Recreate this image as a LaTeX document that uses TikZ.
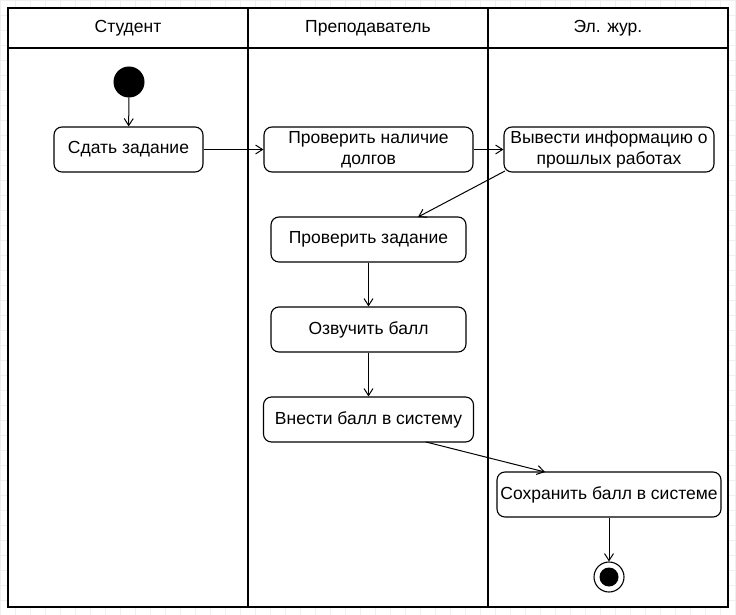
\documentclass[tikz,border=0pt]{standalone}
\usepackage{fontspec}
\setmainfont{Liberation Sans}
\usetikzlibrary{arrows.meta}
\begin{document}
\begin{tikzpicture}[x=1pt,y=-1pt,
  act/.style={draw,line width=1.1pt,rounded corners=8pt,fill=white,inner sep=0pt,align=center,font=\fontsize{17.5}{21}\selectfont},
  lane/.style={draw,line width=1.2pt},
  hdr/.style={font=\fontsize{17.5}{21}\selectfont},
  flow/.style={draw,line width=1pt,-{Straight Barb[length=7pt,width=9pt,line width=1pt]}}]
\useasboundingbox (0,0) rectangle (736,615);
\fill[white] (0,0) rectangle (736,615);
\draw[black!6,line width=0.5pt] (0,0) grid[step=15pt] (736,615);
% lanes
\fill[white] (8,8) rectangle (728,607);
\draw[lane] (8,8) rectangle (728,607);
\draw[lane] (8,48) -- (728,48);
\draw[lane] (248,8) -- (248,607);
\draw[lane] (488,8) -- (488,607);
\node[hdr] (h1) at (128,28) {Студент};
\node[hdr] (h2) at (368,28) {Преподаватель};
\node[hdr] (h3) at (608,28) {Эл. жур.};
% nodes
\node[circle,fill=black,draw,line width=1pt,minimum size=30pt,inner sep=0pt] (start) at (129,82) {};
\node[act,minimum width=149pt,minimum height=45pt] (a1) at (128.5,149.5) {Сдать задание};
\node[act,minimum width=209pt,minimum height=45pt] (a2) at (368.5,149.5) {Проверить наличие\\долгов};
\node[act,minimum width=210pt,minimum height=45pt] (a3) at (609,149.5) {Вывести информацию о\\прошлых работах};
\node[act,minimum width=195pt,minimum height=45pt] (a4) at (368.5,239.5) {Проверить задание};
\node[act,minimum width=195pt,minimum height=45pt] (a5) at (368.5,329.5) {Озвучить балл};
\node[act,minimum width=210pt,minimum height=45pt] (a6) at (368.5,419.5) {Внести балл в систему};
\node[act,minimum width=224pt,minimum height=45pt] (a7) at (609,494.5) {Сохранить балл в системе};
\node[circle,draw,line width=1.1pt,minimum size=30pt,inner sep=0pt,fill=white] (end) at (609,577) {};
\node[circle,fill=black,minimum size=19pt,inner sep=0pt] (endin) at (end) {};
% flows
\coordinate (c1) at (505,171);
\coordinate (c4) at (418,217);
\coordinate (c6) at (426,442);
\coordinate (c7) at (545,472);
\path[flow] (start) -- (a1);
\path[flow] (a1) -- (a2);
\path[flow] (a2) -- (a3);
\path[flow] (c1) -- (c4);
\path[flow] (a4) -- (a5);
\path[flow] (a5) -- (a6);
\path[flow] (c6) -- (c7);
\path[flow] (a7) -- (end);
\end{tikzpicture}
\end{document}
